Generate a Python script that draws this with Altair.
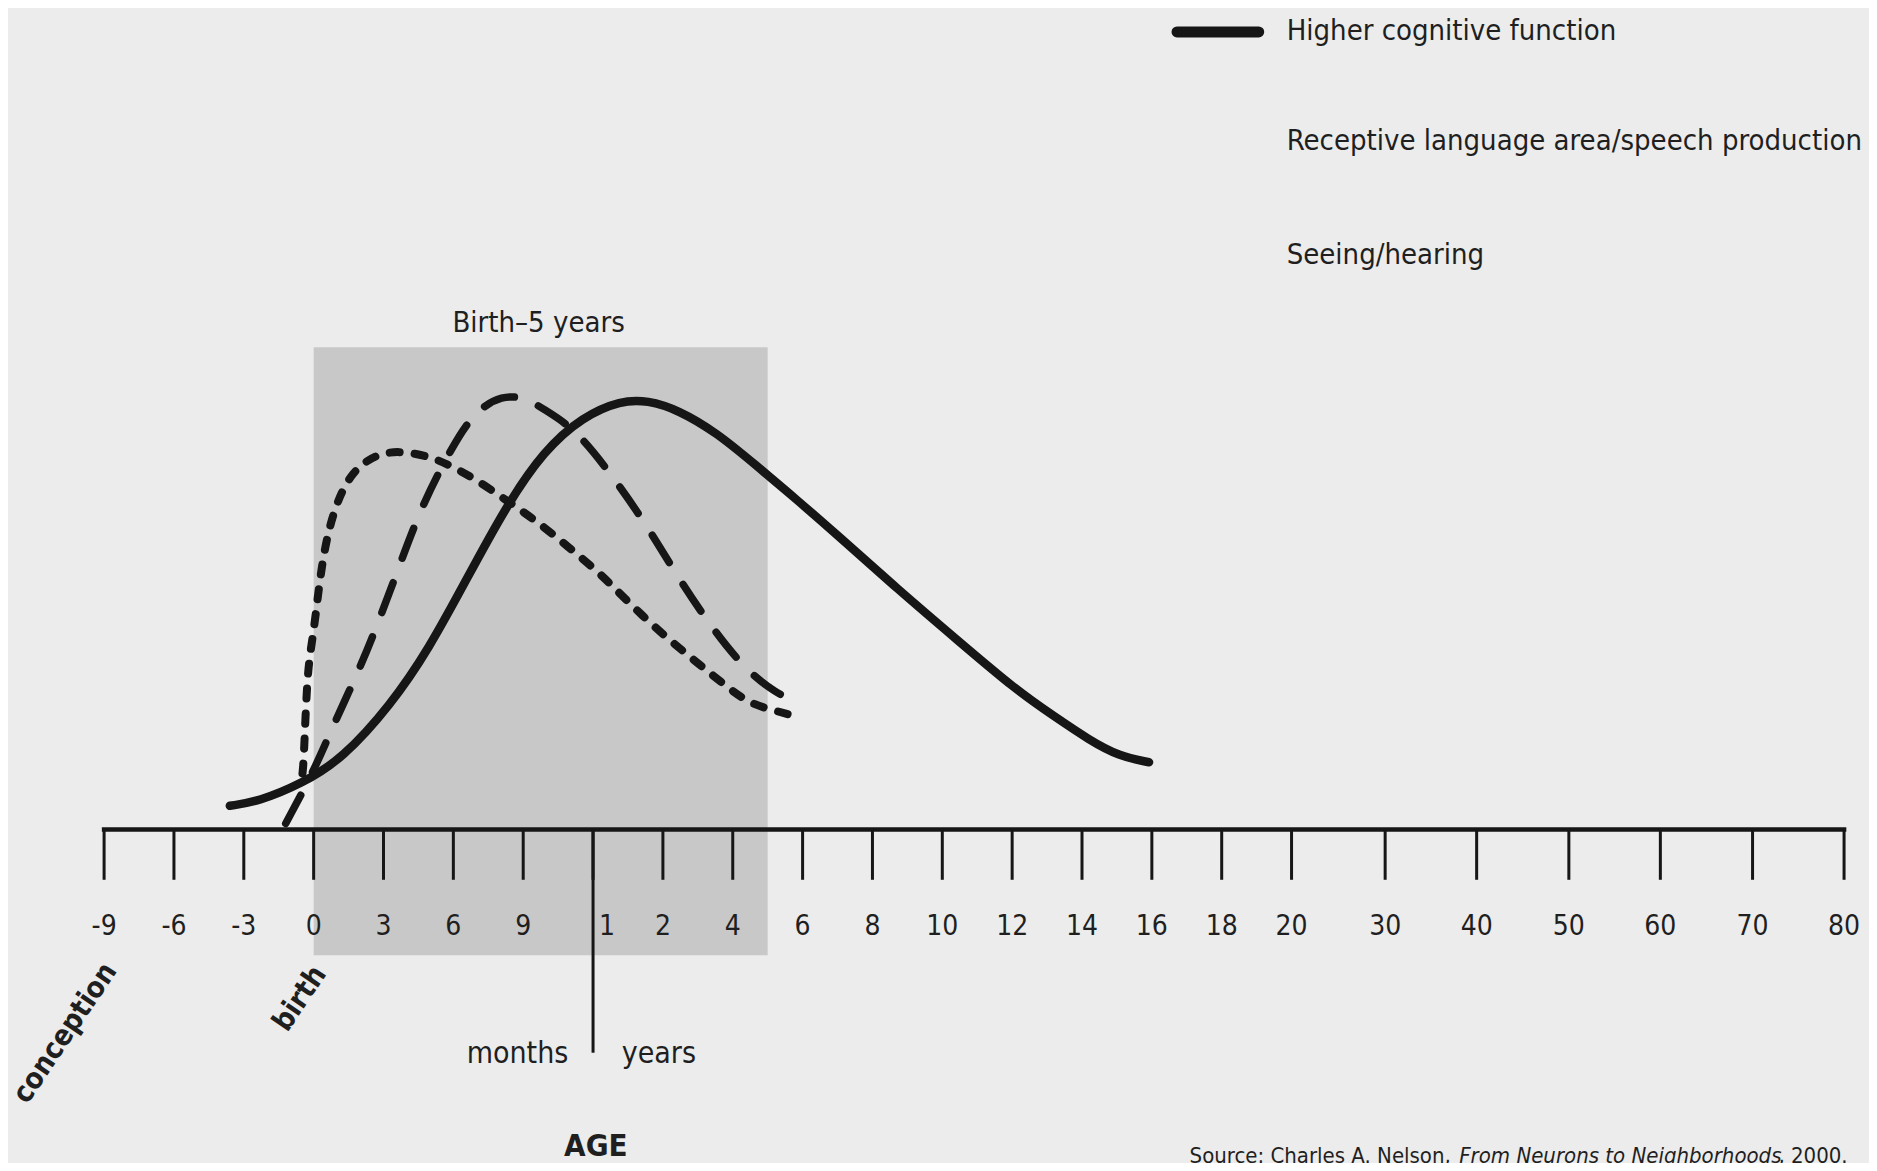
import altair as alt
import pandas as pd

# ---------------- data (x in "tick slot" units, y in relative development units) -------------
TICK_POS = [0, 1, 2, 3, 4, 5, 6, 7, 8, 9, 10, 11, 12, 13, 14, 15, 16, 17,
            18.34, 19.65, 20.97, 22.28, 23.60, 24.91]
TICK_LABELS = ["-9", "-6", "-3", "0", "3", "6", "9", "1", "2", "4", "6", "8", "10",
               "12", "14", "16", "18", "20", "30", "40", "50", "60", "70", "80"]

SERIES = ["Higher cognitive function",
          "Receptive language area/speech production",
          "Seeing/hearing"]

HIGHER_X = [1.80, 2.21, 2.84, 3.41, 4.10, 4.65, 5.20, 5.75, 6.30, 6.85, 7.40, 7.78,
            8.22, 8.77, 9.32, 9.92, 10.50, 11.36, 12.22, 13.07, 13.59, 14.10, 14.53, 14.96]
HIGHER_Y = [5.5, 6.5, 10.7, 16.4, 28.8, 41.9, 58.4, 74.9, 88.0, 95.8, 99.6, 99.6,
            97.4, 92.1, 84.7, 76.5, 68.3, 55.8, 43.9, 32.2, 26.4, 20.8, 17.0, 15.6]

LANG_X = [2.60, 3.01, 3.24, 3.63, 3.88, 4.21, 4.54, 4.98, 5.31, 5.70, 6.03, 6.30,
          6.74, 7.23, 7.73, 8.19, 8.66, 9.18, 9.62, 9.93]
LANG_Y = [1.4, 13.8, 22.7, 36.3, 46.1, 60.4, 74.9, 88.8, 97.1, 100.8, 100.2, 97.5,
          93.0, 83.1, 71.6, 59.2, 47.7, 37.0, 31.7, 29.3]

SENSE_X = [2.84, 2.86, 2.91, 3.00, 3.11, 3.28, 3.55, 3.94, 4.27, 4.65, 4.93, 5.31,
           5.75, 6.19, 6.63, 7.12, 7.56, 8.06, 8.50, 8.93, 9.25, 9.56, 9.80]
SENSE_Y = [13.0, 16.1, 37.8, 45.2, 61.7, 74.3, 83.5, 87.4, 87.8, 86.6, 84.7, 81.4,
           76.5, 71.6, 65.8, 59.2, 51.8, 44.4, 38.6, 32.9, 29.2, 27.8, 26.7]

SHADE_START, SHADE_END = 3, 9.5          # birth .. 5 years
SHADE_LABEL = "Birth\u20135 years"
MILESTONES = ["conception", "birth"]
SOURCE_PARTS = ["Source: Charles A. Nelson,", "From Neurons to Neighborhoods", ", 2000."]

# ---------------- layout (page geometry) ----------------
W, H = 1861, 1155
X0_PAGE, PX_X = 104.1, 69.85     # page x of slot 0, pixels per slot
Y0_PAGE, PX_Y = 829.5, 4.309     # page y of baseline, pixels per unit
x_lo = -(X0_PAGE - 8) / PX_X
x_hi = x_lo + W / PX_X
y_hi = (Y0_PAGE - 8) / PX_Y
y_lo = y_hi - H / PX_Y

XS = alt.Scale(domain=[x_lo, x_hi], nice=False, zero=False)
YS = alt.Scale(domain=[y_lo, y_hi], nice=False, zero=False)

FONT = "DejaVu Sans Condensed, Liberation Sans Narrow, sans-serif"
INK = "#161616"
TXT = "#1f1f1f"


def X(f="x"):
    return alt.X(f"{f}:Q", scale=XS, axis=None)


def Y(f="y"):
    return alt.Y(f"{f}:Q", scale=YS, axis=None)


# shaded birth-5 years box
box_df = pd.DataFrame({"x": [SHADE_START], "x2": [SHADE_END], "y": [111.9], "y2": [-29.2]})
box = alt.Chart(box_df).mark_rect(color="#c8c8c8").encode(
    x=X(), x2="x2:Q", y=Y(), y2="y2:Q")

# axis line + ticks
axis_df = pd.DataFrame({"x": [TICK_POS[0]], "x2": [TICK_POS[-1]], "y": [0]})
axis_line = alt.Chart(axis_df).mark_rule(color=INK, strokeWidth=4.5, strokeCap="square").encode(
    x=X(), x2="x2:Q", y=Y())

tick_df = pd.DataFrame({"x": TICK_POS, "label": TICK_LABELS, "i": range(len(TICK_POS))})
tick_df["y"] = 0
tick_df["y2"] = -11.67
ticks = alt.Chart(tick_df).mark_rule(color=INK, strokeWidth=3).encode(
    x=X(), y=Y(), y2="y2:Q")

div_df = pd.DataFrame({"x": [TICK_POS[7]], "y": [0], "y2": [-51.8]})
divider = alt.Chart(div_df).mark_rule(color=INK, strokeWidth=3).encode(
    x=X(), y=Y(), y2="y2:Q")

tick_df["ly"] = -24.5
tick_labels = alt.Chart(tick_df).transform_filter("datum.i != 7").mark_text(
    font=FONT, fontSize=28, color=TXT, baseline="alphabetic", align="center").encode(
    x=X(), y=Y("ly"), text="label:N")
tick_label_one = alt.Chart(tick_df).transform_filter("datum.i == 7").mark_text(
    font=FONT, fontSize=28, color=TXT, baseline="alphabetic", align="center", dx=14).encode(
    x=X(), y=Y("ly"), text="label:N")

# curves
def curve_df(xs, ys, name):
    return pd.DataFrame({"x": xs, "y": ys, "series": name, "i": range(len(xs))})

higher = alt.Chart(curve_df(HIGHER_X, HIGHER_Y, SERIES[0])).mark_line(
    color=INK, strokeWidth=8.5, interpolate="basis", strokeCap="round").encode(
    x=X(), y=Y(), order="i:Q")
lang = alt.Chart(curve_df(LANG_X, LANG_Y, SERIES[1])).mark_line(
    color=INK, strokeWidth=7.5, interpolate="basis", strokeCap="round",
    strokeDash=[32, 26]).encode(x=X(), y=Y(), order="i:Q")
sense = alt.Chart(curve_df(SENSE_X, SENSE_Y, SERIES[2])).mark_line(
    color=INK, strokeWidth=8, interpolate="basis", strokeCap="round",
    strokeDash=[10, 15]).encode(x=X(), y=Y(), order="i:Q")

# annotations
shade_lbl = alt.Chart(pd.DataFrame({"x": [6.22], "y": [115.5], "t": [SHADE_LABEL]})).mark_text(
    font=FONT, fontSize=29, color=TXT, baseline="alphabetic", align="center").encode(
    x=X(), y=Y(), text="t:N")

unit_df = pd.DataFrame({"x": [6.646, 7.41], "y": [-54.1, -54.1], "t": ["months", "years"],
                        "a": ["right", "left"]})
months = alt.Chart(unit_df).transform_filter("datum.a == 'right'").mark_text(
    font=FONT, fontSize=30, color=TXT, baseline="alphabetic", align="right").encode(
    x=X(), y=Y(), text="t:N")
years = alt.Chart(unit_df).transform_filter("datum.a == 'left'").mark_text(
    font=FONT, fontSize=30, color=TXT, baseline="alphabetic", align="left").encode(
    x=X(), y=Y(), text="t:N")

age = alt.Chart(pd.DataFrame({"x": [7.04], "y": [-75.8], "t": ["AGE"]})).mark_text(
    font=FONT, fontSize=31, fontWeight="bold", color=TXT, baseline="alphabetic",
    align="center").encode(x=X(), y=Y(), text="t:N")

mile_df = pd.DataFrame({"x": [-0.56, 2.80], "y": [-47.2, -39.2], "t": MILESTONES})
milestones = alt.Chart(mile_df).mark_text(
    font=FONT, fontSize=29, fontWeight=600, color=TXT, baseline="middle", align="center",
    angle=304).encode(x=X(), y=Y(), text="t:N")

# legend
leg_df = pd.DataFrame({"x": [16.93] * 3, "y": [185.4, 159.8, 133.3], "t": SERIES})
legend_txt = alt.Chart(leg_df).mark_text(
    font=FONT, fontSize=29, color=TXT, baseline="middle", align="left").encode(
    x=X(), y=Y(), text="t:N")
leg_line_df = pd.DataFrame({"x": [15.36], "x2": [16.53], "y": [185.1]})
legend_line = alt.Chart(leg_line_df).mark_rule(color=INK, strokeWidth=11, strokeCap="round").encode(
    x=X(), x2="x2:Q", y=Y())

# source line
src_df = pd.DataFrame({"x": [19.28, 19.40, 23.97], "y": [-77.3] * 3, "t": SOURCE_PARTS,
                       "k": [0, 1, 2]})
src_a = alt.Chart(src_df).transform_filter("datum.k == 0").mark_text(
    font=FONT, fontSize=22, color=TXT, baseline="alphabetic", align="right").encode(
    x=X(), y=Y(), text="t:N")
src_b = alt.Chart(src_df).transform_filter("datum.k == 1").mark_text(
    font=FONT, fontSize=22, fontStyle="italic", color=TXT, baseline="alphabetic",
    align="left").encode(x=X(), y=Y(), text="t:N")
src_c = alt.Chart(src_df).transform_filter("datum.k == 2").mark_text(
    font=FONT, fontSize=22, color=TXT, baseline="alphabetic", align="left").encode(
    x=X(), y=Y(), text="t:N")

chart = alt.layer(
    box, axis_line, ticks, divider, sense, lang, higher,
    tick_labels, tick_label_one, shade_lbl, months, years, age, milestones,
    legend_line, legend_txt, src_a, src_b, src_c
).properties(
    width=W, height=H, padding=0,
    autosize=alt.AutoSizeParams(type="none"),
    background="#ececec",
).configure_view(stroke=None)

chart.save("out.html", embed_options={"renderer": "svg", "actions": False})
